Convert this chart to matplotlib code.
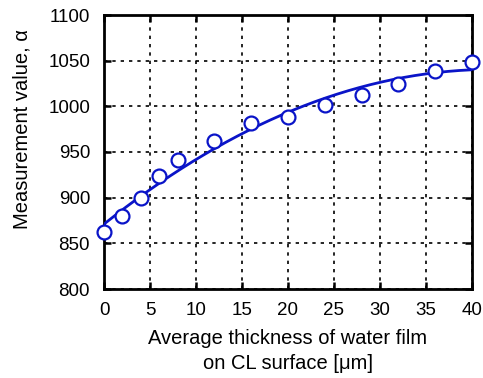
import numpy as np
import matplotlib
matplotlib.use("Agg")
import matplotlib.pyplot as plt

plt.rcParams['font.family'] = ['Liberation Sans', 'DejaVu Sans']

thickness = [0, 2, 4, 6, 8, 12, 16, 20, 24, 28, 32, 36, 40]
measured = [862, 880, 900, 924, 941, 962, 982, 988, 1001, 1012, 1025, 1039, 1048]
x_ticks = [0, 5, 10, 15, 20, 25, 30, 35, 40]
y_ticks = [800, 850, 900, 950, 1000, 1050, 1100]

blue = '#0a14c8'

fig = plt.figure(figsize=(4.83, 3.78), dpi=100)
ax = fig.add_axes([104/483, 1-289/378, (472-104)/483, (289-15)/378])

coef = np.polyfit(thickness, measured, 2)
xs = np.linspace(0, 40, 200)
ax.plot(xs, np.polyval(coef, xs), color=blue, lw=2.0, zorder=3)
ax.plot(thickness, measured, 'o', ms=10, mfc='white', mec=blue, mew=1.6, zorder=4, clip_on=False)

ax.set_xlim(0, 40)
ax.set_ylim(800, 1100)
ax.set_xticks(x_ticks)
ax.set_yticks(y_ticks)
ax.grid(True, color='black', linestyle=(0, (2, 3)), lw=1.2)
ax.tick_params(direction='in', top=True, right=True, length=5, width=1.8, labelsize=13.5)
ax.tick_params(axis='y', pad=10)
ax.tick_params(axis='x', pad=9.5)
for s in ax.spines.values():
    s.set_linewidth(2)
ax.set_xlabel('Average thickness of water film\non CL surface [\u03bcm]', fontsize=14.5, linespacing=1.4)
ax.xaxis.set_label_coords(0.5, -0.146)
ax.set_ylabel('Measurement value, \u03b1', fontsize=14.5)
ax.yaxis.set_label_coords(-0.197, 0.584)

fig.savefig('out.png', dpi=100)
